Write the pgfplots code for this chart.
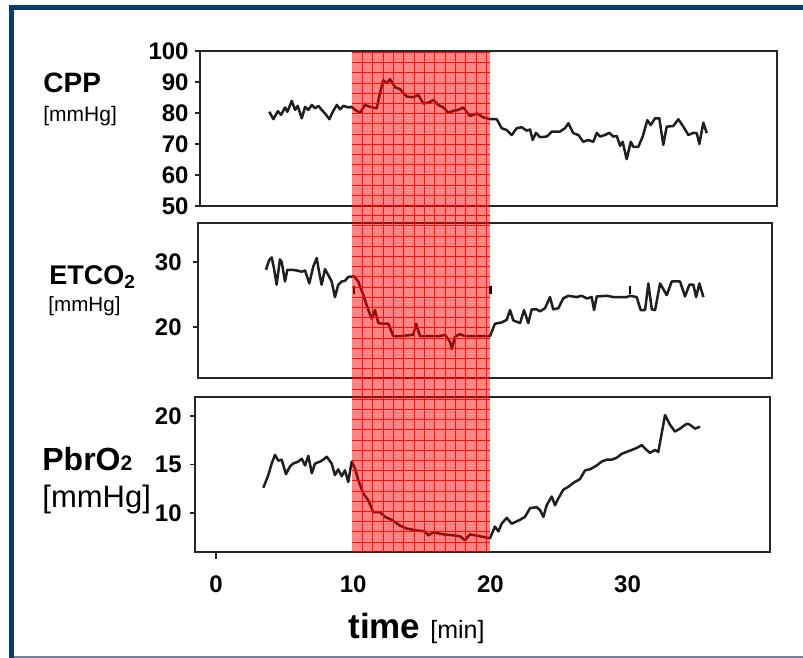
\documentclass[border=0pt]{standalone}
\usepackage{fontspec}
\setmainfont{Liberation Sans}
\usepackage{pgfplots}
\pgfplotsset{compat=1.18}
\definecolor{frameblue}{HTML}{0E3A6A}
\definecolor{framegray}{HTML}{6B82A2}
\definecolor{axisgray}{HTML}{262626}
\pgfplotsset{
  panel/.style={
    scale only axis, anchor=south west,
    axis line style={axisgray, line width=1pt},
    tick style={axisgray, line width=0.9pt},
    tick align=outside, major tick length=2.5pt,
    ytick pos=left, xtick pos=bottom,
    /pgf/number format/assume math mode=true,
    ticklabel style={font=\bfseries\fontsize{12}{14}\selectfont, inner sep=0pt},
  },
  curve/.style={line width=1.25pt, black!88, line join=round, mark=none},
}
\begin{document}
\begin{tikzpicture}
\path[use as bounding box] (0,0) rectangle (401.5pt,-329pt);
% frame
\fill[frameblue] (4.5pt,-2.5pt) rectangle (401.5pt,-5pt);
\fill[frameblue] (4.5pt,-2.5pt) rectangle (7pt,-329pt);
\fill[framegray] (7pt,-327.8pt) rectangle (401.5pt,-329pt);

% Panel 1: CPP
\begin{axis}[panel, at={(100pt,-103pt)}, width=288.5pt, height=77.5pt,
  xmin=-1.17, xmax=40.89, ymin=50, ymax=100,
  ytick={50,60,70,80,90,100}, xtick=\empty,
  yticklabel style={xshift=-3pt}]
\addplot[curve] coordinates {
(3.88,80.4)(4.18,78.0)(4.50,80.6)(4.74,79.4)(5.03,81.8)(5.20,80.4)(5.52,83.9)(5.76,81.0)(5.95,82.3)(6.25,78.3)(6.49,82.0)(6.73,81.0)(6.98,82.6)(7.22,81.5)(7.46,82.3)(7.70,81.0)(7.94,79.9)(8.26,78.0)(8.51,80.4)(8.80,82.6)(9.04,81.2)(9.28,82.3)(9.64,81.8)(9.89,82.0)(10.13,81.0)(10.50,80.1)(10.86,82.6)(11.22,82.0)(11.71,81.5)(11.95,86.4)(12.19,90.6)(12.44,89.6)(12.68,90.9)(13.05,88.3)(13.41,87.7)(13.90,85.3)(14.38,85.1)(14.74,85.8)(15.11,83.1)(15.47,83.3)(15.84,84.2)(16.20,82.6)(16.57,81.8)(16.93,80.1)(17.30,80.7)(17.66,81.0)(18.02,81.8)(18.51,79.0)(19.00,79.9)(19.48,78.6)(19.97,78.0)(20.46,78.0)(20.82,75.1)(21.19,74.5)(21.55,72.9)(21.92,75.1)(22.28,75.4)(22.65,74.3)(22.89,74.7)(23.08,71.3)(23.32,73.6)(23.62,72.2)(24.10,72.4)(24.47,74.0)(25.07,74.0)(25.44,75.1)(25.68,76.7)(26.04,73.5)(26.41,72.9)(26.77,70.7)(27.12,71.3)(27.50,70.7)(27.75,73.6)(27.99,72.4)(28.35,72.9)(28.67,73.6)(28.96,72.4)(29.21,72.6)(29.45,69.4)(29.64,70.7)(29.93,65.1)(30.23,70.7)(30.42,69.1)(30.78,69.1)(31.10,72.4)(31.44,77.7)(31.68,76.1)(32.00,78.3)(32.31,78.3)(32.60,69.7)(32.85,75.6)(33.33,75.8)(33.70,78.0)(34.06,75.6)(34.43,72.9)(34.79,73.6)(35.04,73.5)(35.23,70.0)(35.52,76.9)(35.77,73.5)
};
\end{axis}

% Panel 2: ETCO2
\begin{axis}[panel, at={(99pt,-189pt)}, width=287pt, height=77.5pt,
  xmin=-1.31, xmax=40.52, ymin=12.15, ymax=36,
  ytick={20,30}, xtick=\empty,
  yticklabel style={xshift=-5.5pt}]
\addplot[curve] coordinates {
(3.64,28.8)(3.88,30.3)(4.06,30.7)(4.23,29.0)(4.42,26.5)(4.66,30.4)(4.79,30.0)(5.03,27.0)(5.20,28.8)(5.52,28.8)(5.88,28.7)(6.25,28.5)(6.49,28.7)(6.80,26.7)(7.09,29.3)(7.34,30.6)(7.53,28.3)(7.70,26.5)(7.94,28.9)(8.26,27.7)(8.43,27.0)(8.67,24.6)(8.91,26.5)(9.16,27.0)(9.40,27.1)(9.64,27.7)(10.06,27.8)(10.37,27.0)(10.74,24.9)(11.10,22.6)(11.35,21.3)(11.59,22.6)(11.83,20.6)(12.19,20.5)(12.56,20.5)(12.92,18.6)(13.41,18.6)(14.38,18.8)(14.58,20.5)(14.87,18.6)(15.60,18.6)(16.33,18.6)(16.69,18.8)(17.06,17.7)(17.18,16.6)(17.42,18.5)(17.78,18.9)(18.15,18.6)(18.75,18.6)(19.97,18.6)(20.33,20.5)(20.82,20.7)(21.19,21.1)(21.43,22.6)(21.67,21.0)(22.16,20.6)(22.45,22.6)(22.76,20.6)(23.01,22.7)(23.37,22.7)(23.62,22.4)(23.98,22.9)(24.34,24.6)(24.58,22.7)(24.95,22.9)(25.31,24.4)(25.68,24.8)(26.29,24.6)(26.65,24.8)(27.02,24.4)(27.38,24.6)(27.55,22.6)(27.75,24.7)(28.48,24.8)(28.96,24.6)(29.93,24.6)(30.17,24.8)(30.66,24.6)(30.95,22.6)(31.27,22.6)(31.51,26.7)(31.76,22.7)(32.00,22.6)(32.36,26.7)(32.85,24.9)(33.21,27.0)(33.82,27.0)(34.18,24.7)(34.50,26.5)(34.79,26.5)(34.99,24.6)(35.23,26.7)(35.52,24.6)
};
\addplot[only marks, mark=|, mark size=2pt, mark options={line width=1.2pt, black}] coordinates {(10.05,25.7)(20,25.7)(30.15,25.7)};
\end{axis}

% Panel 3: PbrO2
\begin{axis}[panel, at={(97.5pt,-276pt)}, width=287.5pt, height=77.5pt,
  xmin=-1.53, xmax=40.38, ymin=5.98, ymax=21.96,
  ytick={10,15,20},
  xtick={0,10,20,30}, xtick style={draw=none},
  extra x ticks={0}, extra x tick labels={},
  extra x tick style={xtick style={draw=axisgray, line width=1pt}, major tick length=3.5pt},
  xticklabel style={yshift=-9pt},
  yticklabel style={xshift=-4pt}]
\addplot[curve] coordinates {
(3.45,12.6)(3.81,13.9)(4.06,15.1)(4.30,16.0)(4.54,15.4)(4.79,15.5)(5.10,14.0)(5.39,14.8)(5.63,15.1)(6.00,15.3)(6.25,15.6)(6.49,14.9)(6.73,15.9)(6.98,14.1)(7.22,15.1)(7.58,15.3)(7.82,15.5)(8.07,15.8)(8.43,15.1)(8.67,13.9)(8.91,14.5)(9.16,13.8)(9.40,14.4)(9.64,13.2)(9.89,15.3)(10.13,14.6)(10.37,13.4)(10.74,12.0)(11.10,11.3)(11.46,10.1)(11.95,10.1)(12.32,9.6)(12.81,9.3)(13.41,8.7)(13.90,8.4)(14.63,8.2)(15.23,8.1)(15.47,7.7)(15.84,8.0)(16.57,7.8)(17.30,7.7)(17.78,7.6)(18.15,7.2)(18.51,7.8)(19.24,7.6)(19.97,7.4)(20.33,8.6)(20.58,8.1)(20.82,8.9)(21.19,9.5)(21.55,8.9)(22.16,9.3)(22.52,9.6)(22.89,10.5)(23.37,10.6)(23.62,10.3)(23.86,9.6)(24.10,10.8)(24.47,11.7)(24.71,10.8)(24.95,11.5)(25.31,12.4)(25.68,12.7)(26.04,13.1)(26.53,13.5)(26.90,14.4)(27.26,14.5)(27.75,14.9)(28.11,15.3)(28.48,15.5)(28.84,15.5)(29.21,15.7)(29.57,16.1)(29.93,16.3)(30.30,16.5)(30.66,16.7)(31.03,17.0)(31.39,16.5)(31.63,16.2)(32.00,16.5)(32.24,16.3)(32.73,20.1)(33.09,19.1)(33.45,18.4)(33.82,18.7)(34.31,19.2)(34.55,19.1)(34.91,18.7)(35.28,18.9)
};
\end{axis}

% Shaded band 10--20 min across all panels
\begin{axis}[scale only axis, anchor=south west, at={(176pt,-276pt)},
  width=69pt, height=250pt, xmin=10, xmax=20, ymin=0, ymax=500,
  axis line style={draw=none}, tick style={draw=none},
  xticklabels={}, yticklabels={},
  xtick={10.75,11.5,12.25,13,13.75,14.5,15.25,16,16.75,17.5,18.25,19,19.75},
  ytick={10,20.2,...,495},
  grid=major, major grid style={draw=red, line width=0.42pt, opacity=0.9}]
\addplot[fill=red, fill opacity=0.48, draw=none] coordinates {(10,0)(20,0)(20,500)(10,500)} \closedcycle;
\end{axis}

% Labels
\node[anchor=base west, inner sep=0pt] at (21.5pt,-46.5pt) {\bfseries\fontsize{14}{16}\selectfont CPP};
\node[anchor=base west, inner sep=0pt] at (21.5pt,-60.75pt) {\fontsize{10.5}{12}\selectfont [mmHg]};
\node[anchor=base west, inner sep=0pt] at (24.5pt,-142pt) {\bfseries\fontsize{13.5}{16}\selectfont ETCO\textsubscript{2}};
\node[anchor=base west, inner sep=0pt] at (24pt,-155.75pt) {\fontsize{10.3}{12}\selectfont [mmHg]};
\node[anchor=base west, inner sep=0pt] at (21pt,-235pt) {\bfseries\fontsize{16}{18}\selectfont PbrO{\fontsize{10.5}{12}\selectfont 2}};
\node[anchor=base west, inner sep=0pt] at (21pt,-253.5pt) {\fontsize{15.5}{18}\selectfont [mmHg]};
\node[anchor=base west, inner sep=0pt] at (174pt,-319pt) {\bfseries\fontsize{17.5}{20}\selectfont time\hspace{5pt}\mdseries\fontsize{12.5}{14}\selectfont [min]};
\end{tikzpicture}
\end{document}
